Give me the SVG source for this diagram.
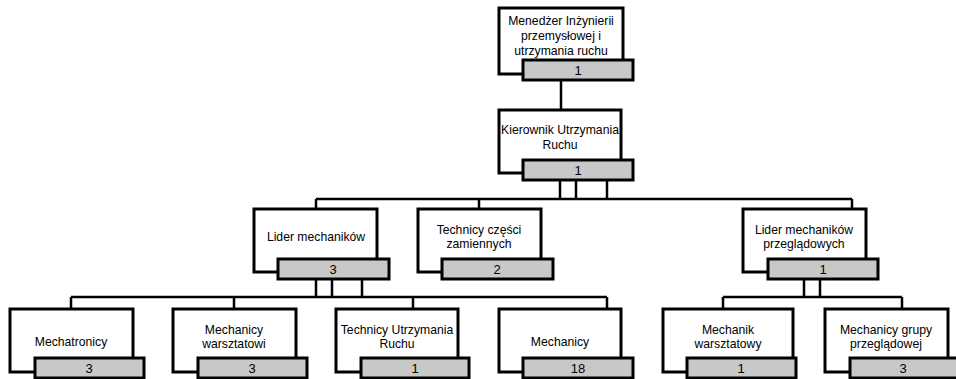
<svg xmlns="http://www.w3.org/2000/svg" width="956" height="379" viewBox="0 0 956 379">
<style>
.w{fill:#fff;stroke:#000;stroke-width:3}
.g{fill:#c8c8c8;stroke:#000;stroke-width:3}
.c{fill:none;stroke:#000;stroke-width:2.5}
text{font-family:"Liberation Sans",Arial,sans-serif;font-size:12.2px;fill:#000;text-anchor:middle}
text.n{font-size:13px}
</style>
<rect width="956" height="379" fill="#fff"/>
<g id="connectors">
<path class="c" d="M561 80V110"/>
<path class="c" d="M560 180V199M576 180V199M607 180V199M316 199H852M316 199V209M479 199V209M852 199V209"/>
<path class="c" d="M316 279V297M332 279V297M362 279V297M71 297H607M71 297V309M234 297V309M413 297V309M607 297V309"/>
<path class="c" d="M804 279V297M820 279V297M723 297H902M723 297V309M902 297V309"/>
</g>
<g id="n0"><rect class="w" x="499" y="8" width="124" height="66"/><text x="561" y="25">Menedżer Inżynierii</text><text x="561" y="40">przemysłowej i</text><text x="561" y="55">utrzymania ruchu</text><rect class="g" x="523" y="60" width="110" height="20"/><text class="n" x="578" y="75">1</text></g>
<g id="n1"><rect class="w" x="499" y="110" width="122" height="63"/><text x="560" y="134">Kierownik Utrzymania</text><text x="560" y="149">Ruchu</text><rect class="g" x="523" y="160" width="110" height="20"/><text class="n" x="578" y="175">1</text></g>
<g id="n2"><rect class="w" x="254" y="209" width="123" height="63"/><text x="316" y="241">Lider mechaników</text><rect class="g" x="278" y="259" width="111" height="20"/><text class="n" x="333" y="274">3</text></g>
<g id="n3"><rect class="w" x="418" y="209" width="123" height="63"/><text x="479" y="234">Technicy części</text><text x="479" y="248">zamiennych</text><rect class="g" x="442" y="259" width="111" height="20"/><text class="n" x="497" y="274">2</text></g>
<g id="n4"><rect class="w" x="743" y="209" width="123" height="63"/><text x="804" y="234">Lider mechaników</text><text x="804" y="248">przeglądowych</text><rect class="g" x="768" y="259" width="110" height="20"/><text class="n" x="823" y="274">1</text></g>
<g id="n5"><rect class="w" x="10" y="309" width="123" height="63"/><text x="71" y="346">Mechatronicy</text><rect class="g" x="35" y="358" width="109" height="20"/><text class="n" x="89" y="373">3</text></g>
<g id="n6"><rect class="w" x="173" y="309" width="123" height="63"/><text x="234" y="334">Mechanicy</text><text x="234" y="348">warsztatowi</text><rect class="g" x="198" y="358" width="109" height="20"/><text class="n" x="252" y="373">3</text></g>
<g id="n7"><rect class="w" x="336" y="309" width="122" height="63"/><text x="397" y="334">Technicy Utrzymania</text><text x="397" y="348">Ruchu</text><rect class="g" x="361" y="358" width="108" height="20"/><text class="n" x="415" y="373">1</text></g>
<g id="n8"><rect class="w" x="499" y="309" width="122" height="63"/><text x="560" y="346">Mechanicy</text><rect class="g" x="523" y="358" width="110" height="20"/><text class="n" x="578" y="373">18</text></g>
<g id="n9"><rect class="w" x="663" y="309" width="130" height="63"/><text x="728" y="334">Mechanik</text><text x="728" y="348">warsztatowy</text><rect class="g" x="687" y="358" width="109" height="20"/><text class="n" x="741" y="373">1</text></g>
<g id="n10"><rect class="w" x="825" y="309" width="123" height="63"/><text x="886" y="334">Mechanicy grupy</text><text x="886" y="348">przeglądowej</text><rect class="g" x="850" y="358" width="108" height="20"/><text class="n" x="903" y="373">3</text></g>
</svg>
